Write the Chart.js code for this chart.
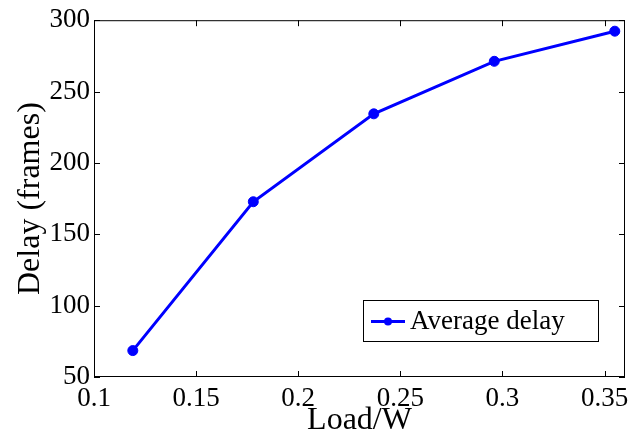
<!DOCTYPE html>
<html>
<head>
<meta charset="utf-8">
<script src="https://cdn.jsdelivr.net/npm/chart.js@4.4.0/dist/chart.umd.min.js"></script>
<style>
  html, body { margin: 0; padding: 0; background: #fff; }
  #wrap { width: 637px; height: 436px; }
</style>
</head>
<body>
<div id="wrap"><canvas id="chart1" width="637" height="436"></canvas></div>
<script>
// data
const loadValues = [0.119, 0.178, 0.237, 0.296, 0.355];
const delayValues = [68.5, 172.8, 234.4, 271.2, 292.3];
const xTicks = [0.1, 0.15, 0.2, 0.25, 0.3, 0.35];
const yTicks = [50, 100, 150, 200, 250, 300];
const seriesName = "Average delay";

const serif = "'Liberation Serif', 'Times New Roman', serif";

// matlab style box with inward ticks on all 4 sides + legend inside the axes
const matlabBox = {
  id: "matlabBox",
  afterDatasetsDraw(chart) {
    const c = chart.ctx, a = chart.chartArea;
    const xs = chart.scales.x, ys = chart.scales.y;
    c.save();
    c.strokeStyle = "#000";
    c.lineWidth = 1;
    c.strokeRect(a.left + 0.5, a.top + 0.5, a.right - a.left - 1, a.bottom - a.top - 1);
    c.beginPath();
    xTicks.forEach(v => {
      const px = Math.round(xs.getPixelForValue(v)) + 0.5;
      c.moveTo(px, a.bottom); c.lineTo(px, a.bottom - 6);
      c.moveTo(px, a.top); c.lineTo(px, a.top + 6);
    });
    yTicks.forEach(v => {
      const py = Math.round(ys.getPixelForValue(v)) + 0.5;
      c.moveTo(a.left, py); c.lineTo(a.left + 6, py);
      c.moveTo(a.right, py); c.lineTo(a.right - 6, py);
    });
    c.stroke();

    // legend
    const ds = chart.data.datasets[0];
    const w = 235, h = 41;
    const bx = a.right - 27 - w, by = a.bottom - 36 - h;
    c.fillStyle = "#fff";
    c.fillRect(bx, by, w, h);
    c.strokeRect(bx + 0.5, by + 0.5, w, h);
    const cy = by + h / 2 + 1;
    c.strokeStyle = ds.borderColor;
    c.lineWidth = 3;
    c.beginPath(); c.moveTo(bx + 8, cy); c.lineTo(bx + 42, cy); c.stroke();
    c.fillStyle = ds.borderColor;
    c.beginPath(); c.arc(bx + 25, cy, 4, 0, Math.PI * 2); c.fill();
    c.fillStyle = "#000";
    c.font = "27px " + serif;
    c.textBaseline = "middle";
    c.textAlign = "left";
    c.fillText(ds.label, bx + 47, cy);
    c.restore();
  }
};

let ctx1 = document.getElementById("chart1").getContext("2d");
let chart1 = new Chart(ctx1, {
  type: "line",
  data: {
    datasets: [{
      label: seriesName,
      data: loadValues.map((x, i) => ({ x: x, y: delayValues[i] })),
      borderColor: "#0000ff",
      backgroundColor: "#0000ff",
      borderWidth: 3,
      pointRadius: 5,
      pointBorderWidth: 1,
      pointHoverRadius: 5,
      tension: 0,
      fill: false
    }]
  },
  options: {
    responsive: false,
    animation: false,
    layout: { padding: { left: 0, right: 12, top: 19, bottom: 0 } },
    plugins: { legend: { display: false }, tooltip: { enabled: false } },
    scales: {
      x: {
        type: "linear",
        min: 0.1, max: 0.36,
        afterBuildTicks: s => { s.ticks = xTicks.map(v => ({ value: v })); },
        afterFit: s => { s.height = 59; },
        grid: { display: false, drawTicks: false },
        border: { display: false },
        ticks: {
          color: "#000", padding: 6,
          font: { family: serif, size: 27 },
          maxRotation: 0,
          callback: v => String(Math.round(v * 100) / 100)
        },
        title: {
          display: true, text: "Load/W", color: "#000",
          font: { family: serif, size: 32 },
          padding: { top: -10, bottom: -4 }
        }
      },
      y: {
        min: 50, max: 300,
        afterBuildTicks: s => { s.ticks = yTicks.map(v => ({ value: v })); },
        afterFit: s => { s.width = 94; },
        grid: { display: false, drawTicks: false },
        border: { display: false },
        ticks: {
          color: "#000", padding: 4,
          font: { family: serif, size: 27 }
        },
        title: {
          display: true, text: "Delay (frames)", color: "#000",
          font: { family: serif, size: 32 },
          padding: { top: 11, bottom: 0 }
        }
      }
    }
  },
  plugins: [matlabBox]
});
</script>
</body>
</html>
